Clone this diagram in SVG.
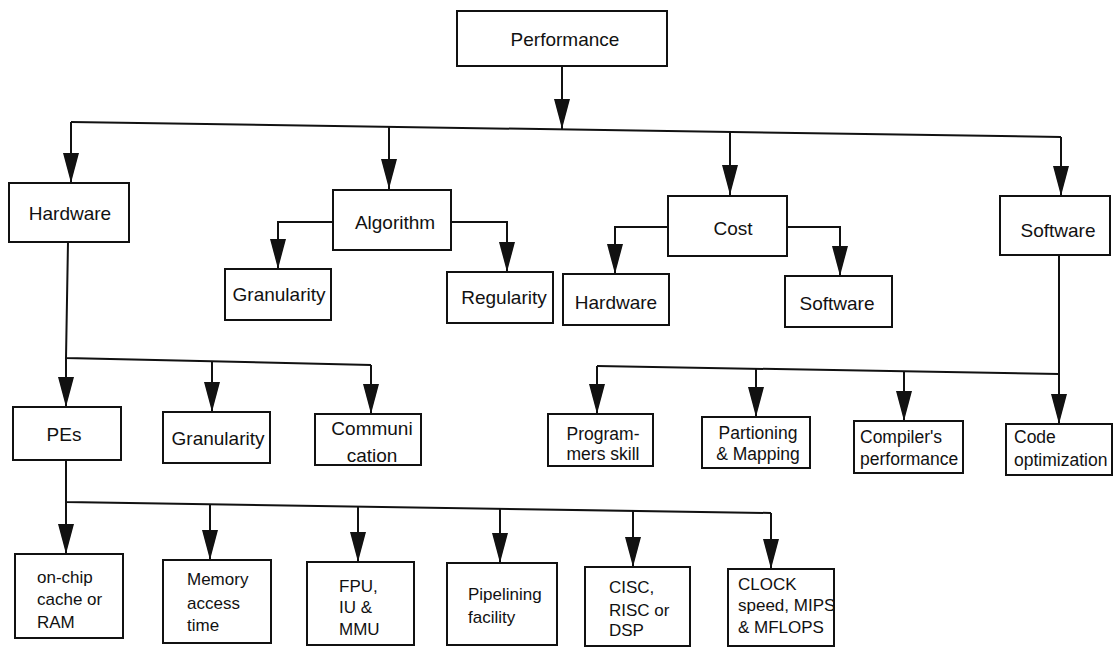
<svg xmlns="http://www.w3.org/2000/svg" width="1114" height="647" viewBox="0 0 1114 647">
<defs>
<style>
.box{fill:#fff;stroke:#111;stroke-width:2}
.ln{fill:none;stroke:#111;stroke-width:2}
.ar{fill:none;stroke:#111;stroke-width:2;marker-end:url(#ah)}
text{font-family:"Liberation Sans",Arial,sans-serif;fill:#111}
.l{font-size:19px}
.m{font-size:17.5px}
.s{font-size:17px}
.c{text-anchor:middle}
</style>
<marker id="ah" viewBox="0 0 30 16" refX="30" refY="8" markerWidth="30" markerHeight="16" markerUnits="userSpaceOnUse" orient="auto">
<path d="M0,0 L30,8 L0,16 z" fill="#111"/>
</marker>
</defs>
<rect width="1114" height="647" fill="#fff"/>

<g id="connectors">
<path class="ar" d="M562,66 V129"/>
<path class="ln" d="M71,122 L1061,137"/>
<path class="ar" d="M71,122 V183"/>
<path class="ar" d="M389,127 V189"/>
<path class="ar" d="M730,132 V195"/>
<path class="ar" d="M1061,137 V196"/>
<path class="ar" d="M333,222 H278 V269"/>
<path class="ar" d="M451,222 H507 V272"/>
<path class="ar" d="M668,227 H615 V274"/>
<path class="ar" d="M787,227 H840 V276"/>
<path class="ln" d="M68,242 L66,358 L371,365"/>
<path class="ar" d="M66,358 V407"/>
<path class="ar" d="M212,361 V412"/>
<path class="ar" d="M371,365 V414"/>
<path class="ln" d="M66,460 V502 L771,513"/>
<path class="ar" d="M66,502 V554"/>
<path class="ar" d="M210,504 V560"/>
<path class="ar" d="M358,507 V562"/>
<path class="ar" d="M500,509 V563"/>
<path class="ar" d="M633,511 V567"/>
<path class="ar" d="M771,513 V569"/>
<path class="ar" d="M1059,255 V424"/>
<path class="ln" d="M597,366 L1059,374"/>
<path class="ar" d="M597,366 V414"/>
<path class="ar" d="M756,369 V417"/>
<path class="ar" d="M904,371 V421"/>
</g>

<g id="performance"><rect class="box" x="457" y="11" width="210" height="55"/><text class="l c" x="565" y="46">Performance</text></g>
<g id="hardware"><rect class="box" x="9" y="183" width="120" height="59"/><text class="l c" x="70" y="220">Hardware</text></g>
<g id="algorithm"><rect class="box" x="333" y="190" width="118" height="60"/><text class="l c" x="395" y="229">Algorithm</text></g>
<g id="alg-granularity"><rect class="box" x="225" y="269" width="106" height="51"/><text class="l c" x="279" y="301">Granularity</text></g>
<g id="regularity"><rect class="box" x="447" y="272" width="106" height="51"/><text class="l c" x="504" y="304">Regularity</text></g>
<g id="cost"><rect class="box" x="668" y="196" width="119" height="60"/><text class="l c" x="733" y="235">Cost</text></g>
<g id="cost-hardware"><rect class="box" x="563" y="274" width="106" height="51"/><text class="l c" x="616" y="309">Hardware</text></g>
<g id="cost-software"><rect class="box" x="785" y="276" width="107" height="51"/><text class="l c" x="837" y="310">Software</text></g>
<g id="software"><rect class="box" x="1000" y="196" width="110" height="59"/><text class="l c" x="1058" y="237">Software</text></g>

<g id="pes"><rect class="box" x="13" y="407" width="108" height="53"/><text class="l c" x="64" y="441">PEs</text></g>
<g id="hw-granularity"><rect class="box" x="163" y="412" width="107" height="51"/><text class="l c" x="218" y="445">Granularity</text></g>
<g id="communication"><rect class="box" x="315" y="414" width="106" height="51"/><text class="l c" x="372" y="435">Communi</text><text class="l c" x="372" y="462">cation</text></g>

<g id="programmers"><rect class="box" x="548" y="414" width="105" height="52"/><text class="m c" x="603" y="440">Program-</text><text class="m c" x="603" y="460">mers skill</text></g>
<g id="partioning"><rect class="box" x="702" y="417" width="108" height="51"/><text class="m c" x="758" y="439">Partioning</text><text class="m c" x="758" y="460">&amp; Mapping</text></g>
<g id="compiler"><rect class="box" x="854" y="421" width="109" height="52"/><text class="m" x="860" y="443">Compiler's</text><text class="m" x="860" y="465">performance</text></g>
<g id="codeopt"><rect class="box" x="1006" y="424" width="106" height="51"/><text class="m" x="1014" y="443">Code</text><text class="m" x="1014" y="466">optimization</text></g>

<g id="onchip"><rect class="box" x="15" y="554" width="108" height="84"/><text class="s" x="37" y="583">on-chip</text><text class="s" x="37" y="605">cache or</text><text class="s" x="37" y="628">RAM</text></g>
<g id="memory"><rect class="box" x="163" y="560" width="108" height="83"/><text class="s" x="187" y="585">Memory</text><text class="s" x="187" y="609">access</text><text class="s" x="187" y="631">time</text></g>
<g id="fpu"><rect class="box" x="307" y="562" width="107" height="83"/><text class="s" x="339" y="592">FPU,</text><text class="s" x="339" y="613">IU &amp;</text><text class="s" x="339" y="635">MMU</text></g>
<g id="pipelining"><rect class="box" x="447" y="563" width="110" height="82"/><text class="s" x="468" y="600">Pipelining</text><text class="s" x="468" y="623">facility</text></g>
<g id="cisc"><rect class="box" x="585" y="567" width="105" height="79"/><text class="s" x="609" y="593">CISC,</text><text class="s" x="609" y="616">RISC or</text><text class="s" x="609" y="636">DSP</text></g>
<g id="clock"><rect class="box" x="728" y="569" width="106" height="77"/><text class="s" x="738" y="590">CLOCK</text><text class="s" x="738" y="611">speed, MIPS</text><text class="s" x="738" y="633">&amp; MFLOPS</text></g>
</svg>
